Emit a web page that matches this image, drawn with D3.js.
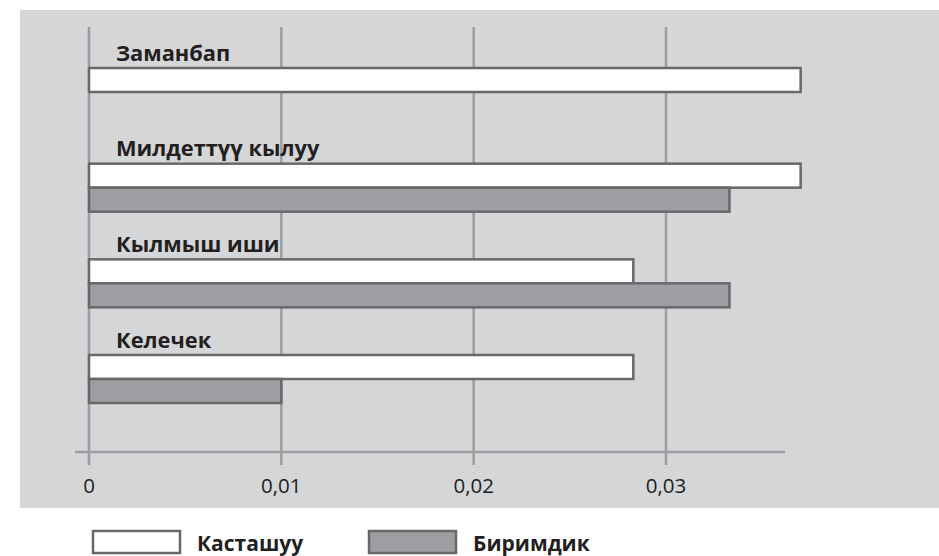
<!DOCTYPE html>
<html>
<head>
<meta charset="utf-8">
<script src="https://cdn.jsdelivr.net/npm/d3@7"></script>
<style>
  html, body { margin: 0; padding: 0; background: #ffffff; }
  svg { display: block; }
</style>
</head>
<body>
<svg id="chart" width="939" height="556"></svg>
<script>
const categories = ["Заманбап", "Милдеттүү кылуу", "Кылмыш иши", "Келечек"];
const seriesNames = ["Касташуу", "Биримдик"];
const kastashuu = [0.037, 0.037, 0.0283, 0.0283];
const birimdik = [null, 0.0333, 0.0333, 0.01];
const tickValues = [0, 0.01, 0.02, 0.03];
const tickLabels = ["0", "0,01", "0,02", "0,03"];

const svg = d3.select("#chart");
const fontFam = "'Open Sans', 'Noto Sans', sans-serif";
const textColor = "#231f20";
const gridColor = "#9c9d9f";
const barStroke = "#68686a";
const fills = ["#ffffff", "#9d9ea1"];

// background panel
svg.append("rect").attr("x", 20).attr("y", 10).attr("width", 919).attr("height", 498)
  .attr("fill", "#d5d6d8");

const x = d3.scaleLinear().domain([0, 0.03]).range([89, 666]);
const y = d3.scalePoint().domain(categories).range([68, 355]);
const barH = 24;

// gridlines
svg.append("g").selectAll("line").data(tickValues).join("line")
  .attr("x1", d => x(d)).attr("x2", d => x(d))
  .attr("y1", 27).attr("y2", 465)
  .attr("stroke", gridColor).attr("stroke-width", 2.5);

// axis baseline
svg.append("line").attr("x1", 75).attr("x2", 785).attr("y1", 452).attr("y2", 452)
  .attr("stroke", gridColor).attr("stroke-width", 2.5);

// tick labels
svg.append("g").selectAll("text").data(tickValues).join("text")
  .attr("x", d => x(d)).attr("y", 485)
  .attr("text-anchor", "middle").attr("dominant-baseline", "central")
  .attr("font-family", fontFam).attr("font-size", 20.5).attr("fill", textColor)
  .text((d, i) => tickLabels[i]);

// bars
const rows = categories.map((c, i) => ({ c, vals: [kastashuu[i], birimdik[i]] }));
const barsG = svg.append("g");
rows.forEach(r => {
  r.vals.forEach((v, j) => {
    if (v == null) return;
    barsG.append("rect")
      .attr("x", x(0)).attr("y", y(r.c) + j * barH)
      .attr("width", x(v) - x(0)).attr("height", barH)
      .attr("fill", fills[j]).attr("stroke", barStroke).attr("stroke-width", 2.5);
  });
});

// category labels
svg.append("g").selectAll("text").data(categories).join("text")
  .attr("x", 116).attr("y", d => y(d) - 16)
  .attr("dominant-baseline", "central")
  .attr("font-family", fontFam).attr("font-weight", 700).attr("font-size", 21.8)
  .attr("fill", textColor)
  .text(d => d);

// legend
const legendX = [93, 369];
const legendG = svg.append("g");
seriesNames.forEach((s, i) => {
  legendG.append("rect").attr("x", legendX[i]).attr("y", 531).attr("width", 87).attr("height", 22)
    .attr("fill", fills[i]).attr("stroke", barStroke).attr("stroke-width", 2.5);
  legendG.append("text").attr("x", legendX[i] + 104).attr("y", 543)
    .attr("dominant-baseline", "central")
    .attr("font-family", fontFam).attr("font-weight", 700).attr("font-size", 21)
    .attr("fill", textColor).text(s);
});
</script>
</body>
</html>
